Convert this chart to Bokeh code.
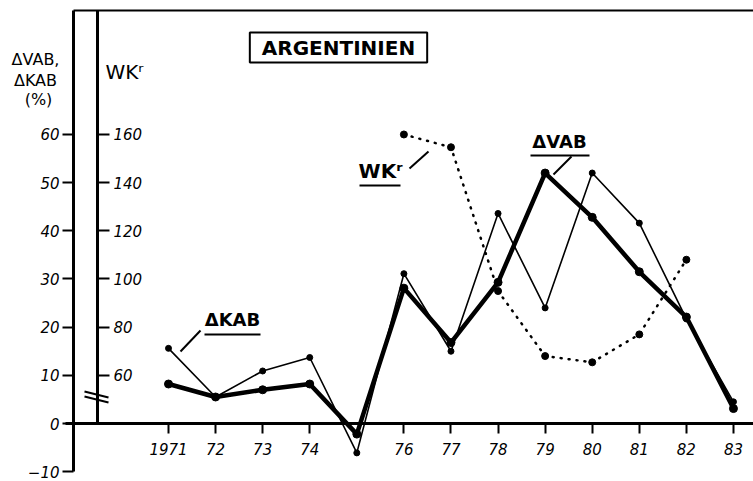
from bokeh.plotting import figure
from bokeh.models import Range1d, LinearAxis, FixedTicker, Label, Arrow
from bokeh.embed import file_html
from bokeh.resources import INLINE

# ---- data ----
years = [1971, 1972, 1973, 1974, 1975, 1976, 1977, 1978, 1979, 1980, 1981, 1982, 1983]
dvab = [8.2, 5.5, 7.0, 8.2, -2.2, 28.1, 16.8, 29.3, 52.0, 42.8, 31.5, 22.1, 3.1]
dkab = [15.6, 5.5, 10.9, 13.7, -6.1, 31.1, 15.0, 43.6, 24.0, 52.0, 41.6, 21.7, 4.5]
wk_years = [1976, 1977, 1978, 1979, 1980, 1981, 1982]
wk = [160, 154.7, 95, 68, 65.4, 77, 108]

pct_ticks = [-10, 0, 10, 20, 30, 40, 50, 60]
wk_ticks = [60, 80, 100, 120, 140, 160]
year_ticks = [1971, 1972, 1973, 1974, 1976, 1977, 1978, 1979, 1980, 1981, 1982, 1983]
year_labels = ["1971", "72", "73", "74", "76", "77", "78", "79", "80", "81", "82", "83"]

# ---- layout helpers (pixel -> data coords) ----
W, H = 753, 481
def xd(px):
    return 1971 + (px - 168) / 47.08

def yd(py):
    return (423 - py) / 4.817

X0, X1 = xd(0), xd(W)
Y0, Y1 = yd(H), yd(0)
FONT = "DejaVu Sans"

p = figure(width=W, height=H, x_range=Range1d(X0, X1), y_range=Range1d(Y0, Y1),
           output_backend="svg", toolbar_location=None, x_axis_location=None, y_axis_location=None,
           min_border_left=0, min_border_right=0, min_border_top=0, min_border_bottom=0)
p.outline_line_color = None
p.grid.visible = False
p.extra_y_ranges = {"wk": Range1d(2 * Y0 + 40, 2 * Y1 + 40)}

def style_axis(a, tick_out, standoff, size="15px"):
    a.axis_line_width = 3
    a.major_tick_out = tick_out
    a.major_tick_in = 0
    a.major_tick_line_width = 2
    a.minor_tick_out = 0
    a.minor_tick_in = 0
    a.major_label_standoff = standoff
    a.major_label_text_font = FONT
    a.major_label_text_font_size = size
    a.major_label_text_font_style = "italic"
    a.major_label_text_color = "black"

# left percent axis
ya = LinearAxis(fixed_location=xd(73), ticker=FixedTicker(ticks=pct_ticks), bounds=(-10, yd(10)))
style_axis(ya, 11, 3)
p.add_layout(ya, "left")

# x axis at zero
xa = LinearAxis(fixed_location=0, ticker=FixedTicker(ticks=year_ticks), bounds=(xd(65), X1),
                major_label_overrides={y: l for y, l in zip(year_ticks, year_labels)})
style_axis(xa, 10, 9)
p.add_layout(xa, "below")

# WK axis (inner)
wa = LinearAxis(y_range_name="wk", fixed_location=xd(97), ticker=FixedTicker(ticks=wk_ticks),
                bounds=(40, 2 * yd(10) + 40))
style_axis(wa, 12, 4)
p.add_layout(wa, "right")

# top line
p.add_layout(Arrow(end=None, x_start=xd(73), y_start=yd(10), x_end=X1, y_end=yd(10), line_width=2))

# axis break marks on WK axis
p.add_layout(Arrow(end=None, x_start=xd(84), y_start=yd(391), x_end=xd(108), y_end=yd(397), line_width=2))
p.add_layout(Arrow(end=None, x_start=xd(84), y_start=yd(396), x_end=xd(108), y_end=yd(402), line_width=2))

# series
p.line(years, dkab, line_width=1.6, color="black")
p.scatter(years, dkab, size=6, color="black")
p.line(years, dvab, line_width=4.5, color="black", line_join="round")
p.scatter(years, dvab, size=8, color="black")
p.line(wk_years, wk, y_range_name="wk", line_dash="1 7", line_width=2.5, line_cap="round", color="black")
p.scatter(wk_years, wk, y_range_name="wk", size=7, color="black")

def lab(x, y, t, size="17px", style="normal", align="center"):
    l = Label(x=x, y=y, text=t, text_align=align, text_baseline="middle",
              text_font=FONT, text_font_size=size, text_font_style=style, text_color="black")
    p.add_layout(l)
    return l

# title box
title = lab(xd(338), yd(47), "ARGENTINIEN", size="20px", style="bold")
title.border_line_color = "black"
title.border_line_width = 2
title.padding = dict(left=12, right=12, top=3, bottom=3)

# axis titles
lab(xd(35), yd(59), "ΔVAB,", size="16px")
lab(xd(35), yd(80), "ΔKAB", size="16px")
lab(xd(38), yd(99), "(%)", size="16px")
lab(xd(124), yd(71), "WKʳ", size="20px")

# series labels with underline and leader
lab(xd(232), yd(319), "ΔKAB", size="18px", style="bold")
p.add_layout(Arrow(end=None, x_start=xd(204), y_start=yd(334), x_end=xd(260), y_end=yd(334), line_width=2))
p.add_layout(Arrow(end=None, x_start=xd(180), y_start=yd(351), x_end=xd(200), y_end=yd(330), line_width=2))

lab(xd(559), yd(141), "ΔVAB", size="18px", style="bold")
p.add_layout(Arrow(end=None, x_start=xd(530), y_start=yd(155), x_end=xd(589), y_end=yd(155), line_width=2))
p.add_layout(Arrow(end=None, x_start=xd(553), y_start=yd(174), x_end=xd(571), y_end=yd(156), line_width=2))

lab(xd(380), yd(170), "WKʳ", size="20px", style="bold")
p.add_layout(Arrow(end=None, x_start=xd(359), y_start=yd(185), x_end=xd(400), y_end=yd(185), line_width=2))
p.add_layout(Arrow(end=None, x_start=xd(409), y_start=yd(168), x_end=xd(428), y_end=yd(151), line_width=2))

open("out.html", "w").write(file_html(p, INLINE))
